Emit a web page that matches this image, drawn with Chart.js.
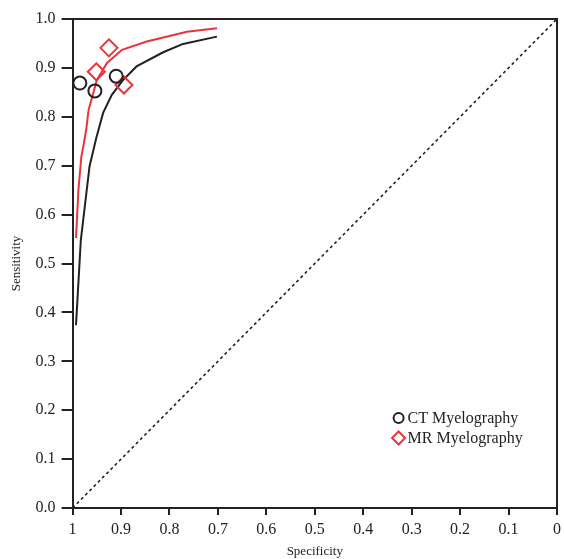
<!DOCTYPE html>
<html>
<head>
<meta charset="utf-8">
<script src="https://cdn.jsdelivr.net/npm/chart.js@4.4.1/dist/chart.umd.min.js"></script>
<style>
  html, body { margin: 0; padding: 0; background: #fff; }
  #wrap { width: 564px; height: 559px; }
</style>
</head>
<body>
<div id="wrap"><canvas id="grafico" width="564" height="559"></canvas></div>
<script>
// datos
const ctSpec = [0.985, 0.954, 0.910];
const ctSens = [0.869, 0.853, 0.883];
const mrSpec = [0.951, 0.925, 0.894];
const mrSens = [0.892, 0.941, 0.865];

const ctCurveSpec = [0.993, 0.983, 0.965, 0.951, 0.937, 0.919, 0.896, 0.868, 0.813, 0.772, 0.702];
const ctCurveSens = [0.374, 0.548, 0.699, 0.757, 0.808, 0.845, 0.875, 0.903, 0.932, 0.949, 0.964];
const mrCurveSpec = [0.993, 0.988, 0.982, 0.978, 0.972, 0.967, 0.950, 0.929, 0.898, 0.847, 0.764, 0.702];
const mrCurveSens = [0.552, 0.650, 0.718, 0.739, 0.773, 0.814, 0.875, 0.910, 0.937, 0.954, 0.974, 0.981];

const refSpec = [1, 0];
const refSens = [0, 1];

const xTicks = [1, 0.9, 0.8, 0.7, 0.6, 0.5, 0.4, 0.3, 0.2, 0.1, 0];
const yTicks = [0, 0.1, 0.2, 0.3, 0.4, 0.5, 0.6, 0.7, 0.8, 0.9, 1.0];

const rojo = '#e8343a';
const serif = "'Liberation Serif', 'DejaVu Serif', serif";

function puntos(xs, ys) {
    return xs.map((x, i) => ({ x: x, y: ys[i] }));
}

// marco y leyenda
const marco = {
    id: 'marco',
    afterDraw(chart) {
        const c = chart.ctx;
        const a = chart.chartArea;
        c.save();
        c.strokeStyle = '#222';
        c.lineWidth = 2;
        c.beginPath();
        c.moveTo(a.left, a.top);
        c.lineTo(a.right, a.top);
        c.lineTo(a.right, a.bottom);
        c.stroke();

        // leyenda
        const items = chart.data.datasets.filter(d => d.enLeyenda);
        let y = a.top + 399;
        const x = a.left + 326;
        c.font = "16px " + serif;
        c.textBaseline = 'middle';
        items.forEach(d => {
            c.strokeStyle = d.borderColor;
            c.lineWidth = 2;
            c.beginPath();
            if (d.pointStyle === 'circle') {
                c.arc(x, y, 5, 0, Math.PI * 2);
            } else {
                c.moveTo(x, y - 6.5);
                c.lineTo(x + 6.5, y);
                c.lineTo(x, y + 6.5);
                c.lineTo(x - 6.5, y);
                c.closePath();
            }
            c.stroke();
            c.fillStyle = '#222';
            c.fillText(d.label, x + 9, y + 1);
            y += 20;
        });
        c.restore();
    }
};

new Chart(document.getElementById('grafico'), {
    type: 'scatter',
    data: {
        datasets: [
            {
                label: 'CT Myelography',
                enLeyenda: true,
                data: puntos(ctSpec, ctSens),
                pointStyle: 'circle',
                pointRadius: 6.5,
                borderColor: '#222',
                backgroundColor: 'rgba(0,0,0,0)',
                borderWidth: 2,
                showLine: false
            },
            {
                label: 'MR Myelography',
                enLeyenda: true,
                data: puntos(mrSpec, mrSens),
                pointStyle: 'rectRot',
                pointRadius: 8.5,
                borderColor: rojo,
                backgroundColor: 'rgba(0,0,0,0)',
                borderWidth: 2,
                showLine: false
            },
            {
                label: 'CT curve',
                data: puntos(ctCurveSpec, ctCurveSens),
                showLine: true,
                pointRadius: 0,
                borderColor: '#222',
                borderWidth: 2
            },
            {
                label: 'MR curve',
                data: puntos(mrCurveSpec, mrCurveSens),
                showLine: true,
                pointRadius: 0,
                borderColor: rojo,
                borderWidth: 2
            },
            {
                label: 'Reference',
                data: puntos(refSpec, refSens),
                showLine: true,
                pointRadius: 0,
                borderColor: '#222',
                borderWidth: 1.6,
                borderDash: [3, 3]
            }
        ]
    },
    options: {
        responsive: false,
        animation: false,
        layout: { autoPadding: false, padding: { top: 19, right: 7, left: 9, bottom: 0 } },
        plugins: {
            legend: { display: false },
            tooltip: { enabled: false }
        },
        scales: {
            x: {
                type: 'linear',
                reverse: true,
                min: 0,
                max: 1,
                afterBuildTicks: s => { s.ticks = xTicks.map(v => ({ value: v })); },
                afterFit: s => { s.paddingRight = 0; s.paddingLeft = 0; },
                ticks: {
                    color: '#222',
                    font: { family: serif, size: 16, lineHeight: 0.875 },
                    padding: 8,
                    maxRotation: 0,
                    callback: v => (v === 1 ? '1' : v === 0 ? '0' : v.toFixed(1))
                },
                grid: { drawOnChartArea: false, tickLength: 7, color: '#222', lineWidth: 2 },
                border: { color: '#222', width: 2 },
                title: {
                    display: true,
                    text: 'Specificity',
                    color: '#222',
                    font: { family: serif, size: 13, lineHeight: 1 },
                    padding: { top: 0, bottom: 1 }
                }
            },
            y: {
                type: 'linear',
                min: 0,
                max: 1,
                afterBuildTicks: s => { s.ticks = yTicks.map(v => ({ value: v })); },
                ticks: {
                    color: '#222',
                    font: { family: serif, size: 16 },
                    padding: 6,
                    callback: v => v.toFixed(1)
                },
                grid: { drawOnChartArea: false, tickLength: 11, color: '#222', lineWidth: 2 },
                border: { color: '#222', width: 2 },
                title: {
                    display: true,
                    text: 'Sensitivity',
                    color: '#222',
                    font: { family: serif, size: 13 },
                    padding: { top: 0, bottom: 5 }
                }
            }
        }
    },
    plugins: [marco]
});
</script>
</body>
</html>
